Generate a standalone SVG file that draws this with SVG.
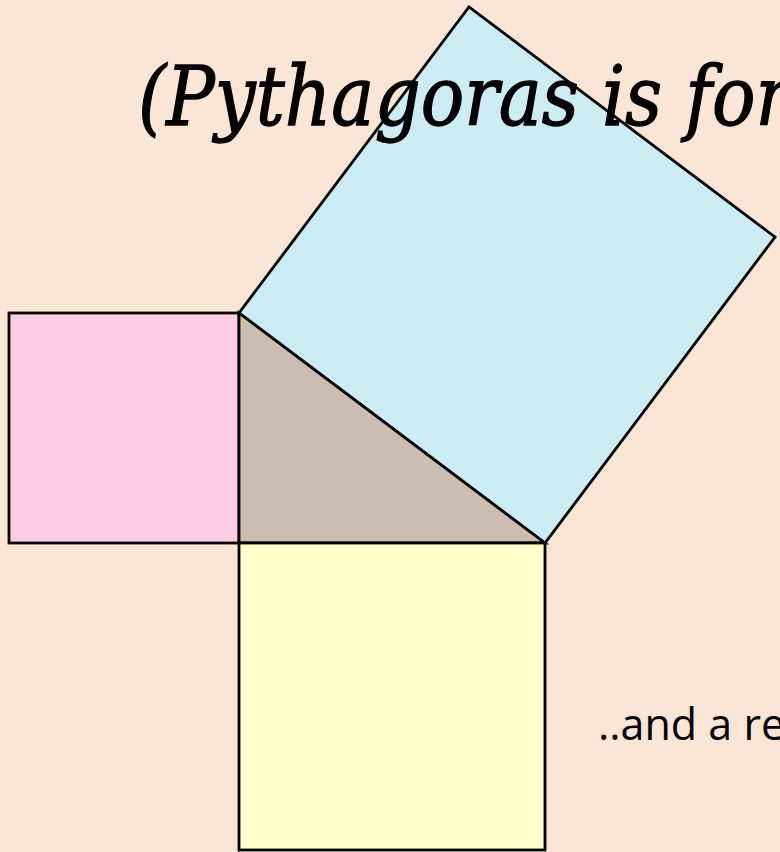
<svg xmlns="http://www.w3.org/2000/svg" width="780" height="852" viewBox="0 0 780 852">
<style>
.sh{stroke:#000;stroke-width:2.8;stroke-linejoin:miter}
.title{font-family:"DejaVu Serif","Liberation Serif",serif;font-style:italic;font-size:82px;fill:#000;stroke:#000;stroke-width:1.3}
.note{font-family:"Open Sans","Liberation Sans",sans-serif;font-size:43px;fill:#000}
</style>
<rect width="780" height="852" fill="#FBE5D7"/>
<g id="square-c">
<polygon class="sh" points="239,313 545,543 775,237 469,7" fill="#CCEBF3"/>
</g>
<text class="title" x="138" y="125" textLength="652" lengthAdjust="spacingAndGlyphs">(Pythagoras is for</text>
<g id="square-a">
<rect class="sh" x="9" y="313" width="230" height="230" fill="#FFCCE6"/>
</g>
<g id="triangle">
<polygon class="sh" points="239,313 239,543 545,543" fill="#CCBDB2"/>
</g>
<g id="square-b">
<rect class="sh" x="239" y="543" width="306" height="307" fill="#FFFFCC"/>
</g>
<text class="note" x="598" y="740">..and a re</text>
</svg>
